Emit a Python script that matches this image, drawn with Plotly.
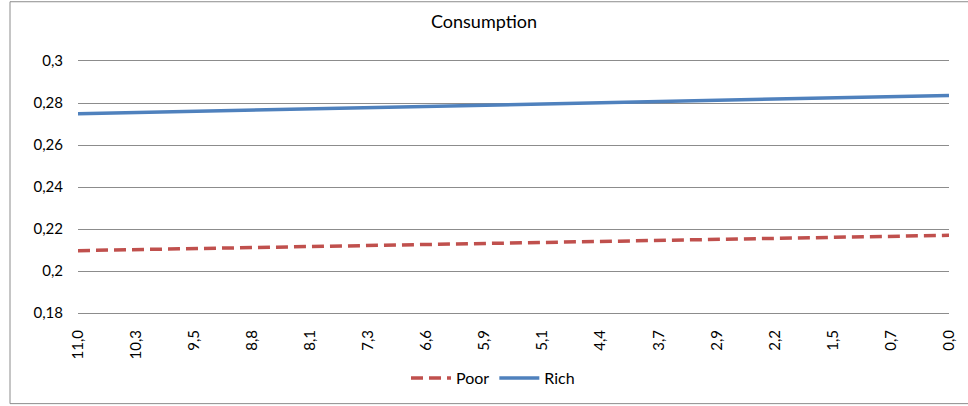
import plotly.graph_objects as go

categories = ["11,0", "10,3", "9,5", "8,8", "8,1", "7,3", "6,6", "5,9",
              "5,1", "4,4", "3,7", "2,9", "2,2", "1,5", "0,7", "0,0"]
poor = [0.2097, 0.2102, 0.2107, 0.2112, 0.2116, 0.2121, 0.2126, 0.2131,
        0.2136, 0.2141, 0.2146, 0.2150, 0.2155, 0.2160, 0.2165, 0.2170]
rich = [0.2749, 0.2755, 0.2761, 0.2767, 0.2772, 0.2778, 0.2784, 0.2790,
        0.2796, 0.2802, 0.2807, 0.2813, 0.2819, 0.2825, 0.2830, 0.2836]
y_ticks = [0.18, 0.20, 0.22, 0.24, 0.26, 0.28, 0.30]
y_tick_labels = ["0,18", "0,2", "0,22", "0,24", "0,26", "0,28", "0,3"]

FONT = "Lato, 'Open Sans', sans-serif"
GRID = "#8C8C8C"

fig = go.Figure()
fig.add_trace(go.Scatter(
    x=categories, y=poor, name="Poor", mode="lines",
    line=dict(color="#C0504D", width=3.5, dash="12px,6px"),
))
fig.add_trace(go.Scatter(
    x=categories, y=rich, name="Rich", mode="lines",
    line=dict(color="#4F81BD", width=3.5),
))

W, H = 968, 406
L, R, T, B = 78, 19, 61, 92
pw, ph = W - L - R, H - T - B

def px_x(p):
    return (p - L) / pw

def px_y(p):
    return (H - B - p) / ph

fig.update_layout(
    width=W, height=H,
    margin=dict(l=L, r=R, t=T, b=B, pad=0),
    paper_bgcolor="white", plot_bgcolor="white",
    font=dict(family=FONT, size=15, color="#000000"),
    title=dict(text="Consumption", x=0.5, xanchor="center",
               y=1 - 22 / H, yanchor="middle",
               font=dict(family=FONT, size=18, color="#000000")),
    showlegend=True,
    legend=dict(orientation="h", x=px_x(493), xanchor="center",
                y=px_y(378), yanchor="middle",
                font=dict(family=FONT, size=16, color="#000000"),
                itemwidth=40, bgcolor="rgba(0,0,0,0)"),
    xaxis=dict(type="category", range=[0, len(categories) - 1],
               showgrid=False, zeroline=False,
               showline=True, mirror=True, linecolor=GRID, linewidth=1,
               ticks="", tickangle=-90, ticklabelstandoff=10,
               tickfont=dict(family=FONT, size=15, color="#000000")),
    yaxis=dict(range=[0.18, 0.30], tickvals=y_ticks, ticktext=y_tick_labels,
               showgrid=True, gridcolor=GRID, gridwidth=1,
               zeroline=False, showline=False, ticks="",
               ticklabelstandoff=14,
               tickfont=dict(family=FONT, size=15, color="#000000")),
    shapes=[dict(type="rect", xref="paper", yref="paper",
                 x0=px_x(10), x1=px_x(975), y0=px_y(405), y1=px_y(1.5),
                 line=dict(color=GRID, width=1), fillcolor="rgba(0,0,0,0)",
                 layer="below")],
)

fig.write_html("out.html", config={"displayModeBar": False},
               post_script="document.body.style.margin='0';document.body.style.padding='0';")
